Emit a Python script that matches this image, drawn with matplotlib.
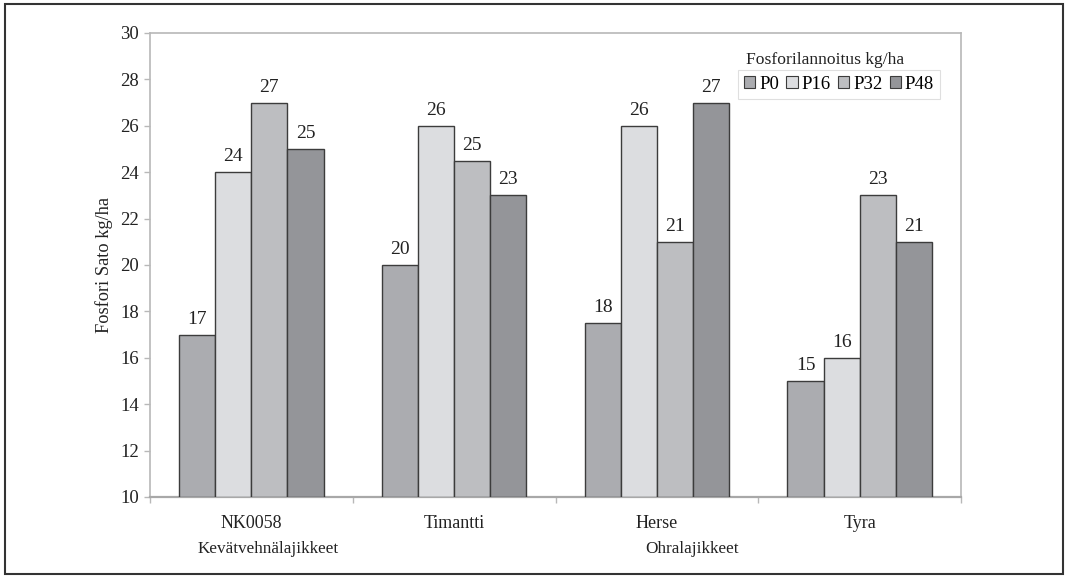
import matplotlib
matplotlib.use("Agg")
import matplotlib.pyplot as plt
from matplotlib.patches import Rectangle, Patch
import numpy as np

# Data
varieties = ["NK0058", "Timantti", "Herse", "Tyra"]
series_names = ["P0", "P16", "P32", "P48"]
p0 = [17, 20, 17.5, 15]
p16 = [24, 26, 26, 16]
p32 = [27, 24.5, 21, 23]
p48 = [25, 23, 27, 21]
y_ticks = [10, 12, 14, 16, 18, 20, 22, 24, 26, 28, 30]
group_labels = ["Kevätvehnälajikkeet", "Ohralajikkeet"]

colors = ["#abacb0", "#dcdde0", "#bdbec1", "#949599"]
edge = "#3c3c3c"
frame_gray = "#b8b8b8"
text_color = "#222222"

plt.rcParams["font.family"] = ["Liberation Serif", "DejaVu Serif"]

fig = plt.figure(figsize=(10.68, 5.78), dpi=100)
W, H = 1068, 578
ax = fig.add_axes([150 / W, 1 - 497 / H, (961 - 150) / W, (497 - 33) / H])

x = np.arange(len(varieties))
bw = 0.178
all_series = [p0, p16, p32, p48]
for i, (vals, c) in enumerate(zip(all_series, colors)):
    pos = x + (i - 1.5) * bw
    ax.bar(pos, np.array(vals) - 10, bottom=10, width=bw, color=c,
           edgecolor=edge, linewidth=1.0, zorder=3)
    for px, v in zip(pos, vals):
        ax.text(px, v + 0.3, f"{int(v + 0.5)}", ha="center", va="bottom",
                fontsize=14, color=text_color)

ax.set_xlim(-0.5, len(varieties) - 0.5)
ax.set_ylim(10, 30)
ax.set_yticks(y_ticks)
ax.set_yticklabels([str(t) for t in y_ticks], fontsize=13.5, color=text_color)
ax.set_xticks(x)
ax.set_xticklabels(varieties, fontsize=13, color=text_color)
ax.tick_params(axis="x", length=0, pad=13)
ax.set_xticks(np.arange(-0.5, len(varieties)), minor=True)
ax.tick_params(axis="x", which="minor", length=4, color=frame_gray, width=1)
ax.tick_params(axis="y", length=4, color=frame_gray, width=1, pad=4)

for s in ["left", "right", "top"]:
    ax.spines[s].set_color(frame_gray)
    ax.spines[s].set_linewidth(1.2)
ax.spines["bottom"].set_color("#a8a8a8")
ax.spines["bottom"].set_linewidth(1.6)

fig.text(104 / W, 1 - 265 / H, "Fosfori Sato kg/ha", ha="center", va="center",
         rotation=90, fontsize=13.2, color=text_color)

# Group captions under the category names
fig.text(268 / W, 1 - 549 / H, group_labels[0], ha="center", va="center",
         fontsize=12.3, color=text_color)
fig.text(692 / W, 1 - 549 / H, group_labels[1], ha="center", va="center",
         fontsize=12.3, color=text_color)

# Legend with its title above the framed entries
handles = [Patch(facecolor=c, edgecolor=edge, linewidth=0.8) for c in colors]
leg = ax.legend(handles, series_names, ncol=4, loc="upper left",
                bbox_to_anchor=((738 - 150) / (961 - 150), 1 - (70 - 33) / (497 - 33)),
                frameon=True, fontsize=13.5, handlelength=0.6, handleheight=0.6,
                handletextpad=0.2, columnspacing=0.4, borderpad=0.32,
                borderaxespad=0, fancybox=False)
leg.get_frame().set_edgecolor("#d8d8d8")
leg.get_frame().set_linewidth(0.8)
fig.text(825 / W, 1 - 60 / H, "Fosforilannoitus kg/ha", ha="center",
         va="center", fontsize=12.6, color=text_color)

# Outer border around the whole figure
fig.patches.append(Rectangle((5 / W, 4 / H), (1063 - 5) / W, (574 - 4) / H,
                             transform=fig.transFigure, fill=False,
                             edgecolor="#333333", linewidth=1.5))

fig.savefig("out.png", dpi=100, facecolor="white")
